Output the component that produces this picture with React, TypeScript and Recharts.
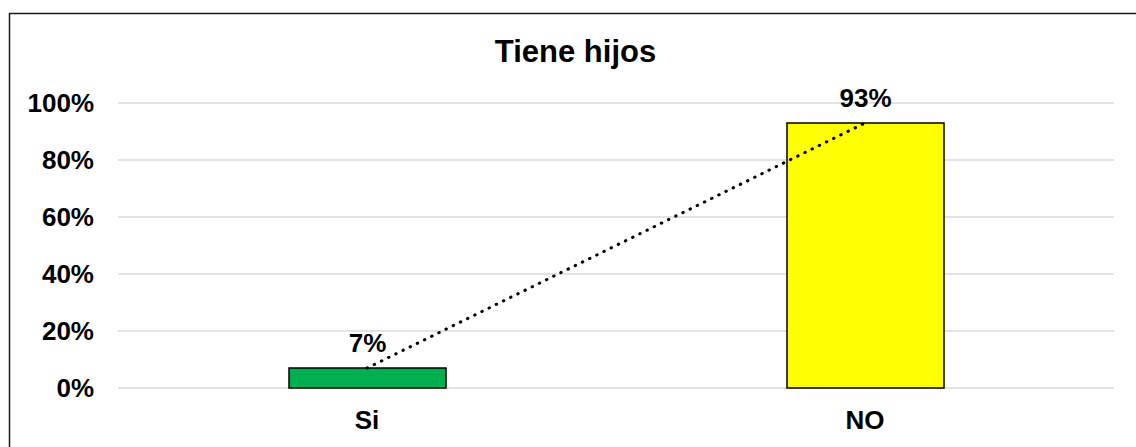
import React from "react";
import { ComposedChart, Bar, Line, XAxis, YAxis, CartesianGrid, Cell, LabelList } from "recharts";

const categories = ["Si", "NO"];
const values = [0.07, 0.93];
const barColors = ["#00B050", "#FFFF00"];
const yTicks = [0, 0.2, 0.4, 0.6, 0.8, 1];
const title = "Tiene hijos";

const data = categories.map((c, i) => ({ name: c, value: values[i], trend: values[i] }));

const FONT = "'Liberation Sans', Arial, sans-serif";
const pct = (v: number) => `${Math.round(v * 100)}%`;

export default function App() {
  return (
    <div style={{ position: "absolute", left: 0, top: 0, width: 1136, height: 447, overflow: "hidden", background: "#fff" }}>
      <ComposedChart
        width={1136}
        height={447}
        data={data}
        margin={{ top: 103, right: 22, bottom: 0, left: 0 }}
        style={{ fontFamily: FONT }}
      >
        <CartesianGrid vertical={false} stroke="#d9d9d9" strokeWidth={1.5} />
        <XAxis
          dataKey="name"
          axisLine={false}
          tickLine={false}
          tickSize={0}
          tickMargin={23}
          height={59}
          tick={{ fill: "#000", fontSize: 26, fontWeight: 700, fontFamily: FONT }}
        />
        <YAxis
          domain={[0, 1]}
          ticks={yTicks}
          tickFormatter={pct}
          axisLine={false}
          tickLine={false}
          tickSize={0}
          tickMargin={24}
          width={118}
          tick={{ fill: "#000", fontSize: 26, fontWeight: 700, fontFamily: FONT }}
        />
        <Bar dataKey="value" barSize={157} stroke="#000" strokeWidth={1.5} isAnimationActive={false}>
          {data.map((d, i) => (
            <Cell key={d.name} fill={barColors[i]} />
          ))}
          <LabelList
            dataKey="value"
            position="top"
            offset={16}
            formatter={(v: any) => pct(Number(v))}
            style={{ fill: "#000", fontSize: 26, fontWeight: 700, fontFamily: FONT }}
          />
        </Bar>
        <Line
          dataKey="trend"
          stroke="#000"
          strokeWidth={3}
          strokeDasharray="0.5 7.5"
          strokeLinecap="round"
          dot={false}
          activeDot={false}
          type="linear"
          isAnimationActive={false}
        />
      </ComposedChart>
      <svg width={1136} height={447} style={{ position: "absolute", left: 0, top: 0, pointerEvents: "none" }}>
        <path d="M9.5 460 L9.5 13.5 L1150 13.5" fill="none" stroke="#1a1a1a" strokeWidth={1.5} />
        <text x={575.5} y={62} textAnchor="middle" fontSize={31} fontWeight={700} fontFamily={FONT} fill="#000">
          {title}
        </text>
      </svg>
    </div>
  );
}
